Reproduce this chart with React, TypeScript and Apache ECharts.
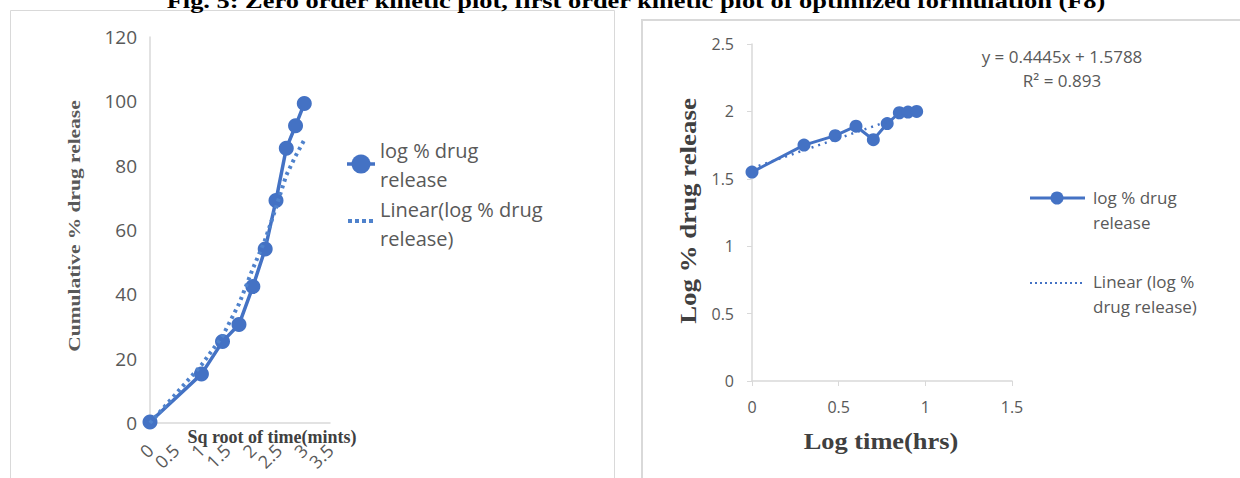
import React, { useEffect, useRef } from "react";
import * as echarts from "echarts";

// Zero order plot (left)
const sqrtTime = [0, 1, 1.41, 1.73, 2, 2.24, 2.45, 2.65, 2.83, 3];
const cumRelease = [0.3, 15.2, 25.3, 30.6, 42.4, 54.1, 69.2, 85.4, 92.4, 99.3];
const zeroTrend = [0, 18, 27, 37, 48, 57, 67, 77, 83, 88];
// First order plot (right)
const logTime = [0, 0.3, 0.48, 0.6, 0.7, 0.78, 0.85, 0.9, 0.95];
const logRelease = [1.55, 1.75, 1.82, 1.89, 1.79, 1.91, 1.99, 1.995, 2.0];
const trendX = [0, 0.95];
const trendY = [1.579, 2.0];

const titleText =
  "Fig. 5: Zero order kinetic plot, first order kinetic plot of optimized formulation (F8)";
const seriesName = "log % drug release";
const linearLeft = "Linear(log % drug release)";
const linearRight = "Linear (log % drug release)";
const equationText = "y = 0.4445x + 1.5788";
const r2Text = "R\u00b2 = 0.893";

const BLUE = "#4472C4";
const GRAY = "#595959";
const DARK = "#404040";
const AXIS = "#d9d9d9";
const SANS = "'Open Sans', 'Noto Sans', sans-serif";
const SERIF = "'Liberation Serif', 'DejaVu Serif', serif";

export default function App() {
  const ref = useRef<HTMLDivElement>(null);

  useEffect(() => {
    if (!ref.current) return;
    const chart = echarts.init(ref.current, undefined, { renderer: "svg" });

    const leftData = sqrtTime.map((x, i) => [x, cumRelease[i]]);
    const leftTrend = sqrtTime.map((x, i) => [x, zeroTrend[i]]);
    const rightData = logTime.map((x, i) => [x, logRelease[i]]);
    const rightTrend = trendX.map((x, i) => [x, trendY[i]]);

    const txt = (
      text: string,
      x: number,
      y: number,
      size: number,
      extra: any = {},
      style: any = {}
    ) => ({
      type: "text",
      x,
      y,
      ...extra,
      style: {
        text,
        fontSize: size,
        fontFamily: SANS,
        fill: GRAY,
        align: "left",
        verticalAlign: "middle",
        ...style,
      },
    });

    chart.setOption({
      animation: false,
      backgroundColor: "#ffffff",
      grid: [
        { left: 150, top: 37, width: 180, height: 386 },
        { left: 752, top: 44, width: 260, height: 337 },
      ],
      xAxis: [
        {
          type: "value",
          gridIndex: 0,
          min: 0,
          max: 3.5,
          interval: 0.5,
          splitLine: { show: false },
          axisLine: { show: true, lineStyle: { color: AXIS, width: 1.5 } },
          axisTick: { show: false },
          axisLabel: {
            rotate: 45,
            margin: 24,
            fontSize: 18,
            fontFamily: SANS,
            color: GRAY,
            showMaxLabel: true,
          },
        },
        {
          type: "value",
          gridIndex: 1,
          min: 0,
          max: 1.5,
          interval: 0.5,
          splitLine: { show: false },
          axisLine: { show: true, lineStyle: { color: AXIS, width: 1.5 } },
          axisTick: { show: true, length: 5, lineStyle: { color: AXIS } },
          axisLabel: { margin: 18, fontSize: 16, fontFamily: SANS, color: GRAY },
        },
      ],
      yAxis: [
        {
          type: "value",
          gridIndex: 0,
          min: 0,
          max: 120,
          interval: 20,
          splitLine: { show: false },
          axisLine: { show: true, lineStyle: { color: AXIS, width: 1.5 } },
          axisTick: { show: false },
          axisLabel: { margin: 13, fontSize: 19, fontFamily: SANS, color: GRAY },
        },
        {
          type: "value",
          gridIndex: 1,
          min: 0,
          max: 2.5,
          interval: 0.5,
          splitLine: { show: false },
          axisLine: { show: true, lineStyle: { color: AXIS, width: 1.5 } },
          axisTick: { show: true, length: 5, lineStyle: { color: AXIS } },
          axisLabel: { margin: 18, fontSize: 16, fontFamily: SANS, color: GRAY },
        },
      ],
      series: [
        {
          name: linearLeft,
          type: "line",
          xAxisIndex: 0,
          yAxisIndex: 0,
          data: leftTrend,
          showSymbol: false,
          lineStyle: { color: "#4f82cc", width: 4, type: [3, 4] },
          z: 3,
        },
        {
          name: seriesName,
          type: "line",
          xAxisIndex: 0,
          yAxisIndex: 0,
          data: leftData,
          symbol: "circle",
          symbolSize: 15,
          itemStyle: { color: BLUE },
          lineStyle: { color: BLUE, width: 3.5 },
          z: 2,
        },
        {
          name: seriesName,
          type: "line",
          xAxisIndex: 1,
          yAxisIndex: 1,
          data: rightData,
          symbol: "circle",
          symbolSize: 13,
          itemStyle: { color: BLUE },
          lineStyle: { color: BLUE, width: 3 },
          z: 2,
        },
        {
          name: linearRight,
          type: "line",
          xAxisIndex: 1,
          yAxisIndex: 1,
          data: rightTrend,
          showSymbol: false,
          lineStyle: { color: BLUE, width: 2.5, type: [2, 5] },
          z: 3,
        },
      ],
      graphic: [
        // frames
        {
          type: "rect",
          shape: { x: 10.5, y: 10.5, width: 604, height: 490 },
          style: { fill: "none", stroke: AXIS, lineWidth: 1 },
        },
        {
          type: "rect",
          shape: { x: 642, y: 20, width: 620, height: 490 },
          style: { fill: "none", stroke: AXIS, lineWidth: 2 },
        },
        // figure caption (cut off at top, as in the source)
        txt(titleText, 636, 0, 22, { scaleX: 1.2 }, {
          fontFamily: SERIF,
          fontWeight: "bold",
          fill: "#000000",
          align: "center",
        }),
        // left axis titles
        txt("Cumulative % drug release", 75, 226, 16, { rotation: Math.PI / 2, scaleX: 1.34 }, {
          fontFamily: SERIF,
          fontWeight: "bold",
          fill: GRAY,
          align: "center",
        }),
        txt("Sq root of time(mints)", 272, 437, 18, {}, {
          fontFamily: SERIF,
          fontWeight: "bold",
          fill: DARK,
          align: "center",
        }),
        // right axis titles
        txt("Log % drug release", 688, 211, 24, { rotation: Math.PI / 2, scaleX: 1.12 }, {
          fontFamily: SERIF,
          fontWeight: "bold",
          fill: DARK,
          align: "center",
        }),
        txt("Log time(hrs)", 881, 441, 24, { scaleX: 1.1 }, {
          fontFamily: SERIF,
          fontWeight: "bold",
          fill: DARK,
          align: "center",
        }),
        // left legend
        {
          type: "line",
          shape: { x1: 347, y1: 164, x2: 375, y2: 164 },
          style: { stroke: BLUE, lineWidth: 3.5 },
        },
        {
          type: "circle",
          shape: { cx: 361, cy: 164, r: 9.5 },
          style: { fill: BLUE },
        },
        txt("log % drug", 380, 150, 20),
        txt("release", 380, 179, 20),
        {
          type: "line",
          shape: { x1: 348, y1: 221, x2: 376, y2: 221 },
          style: { stroke: "#4f82cc", lineWidth: 4, lineDash: [4, 3] },
        },
        txt("Linear(log % drug", 380, 209, 20),
        txt("release)", 380, 238, 20),
        // right legend
        {
          type: "line",
          shape: { x1: 1030, y1: 198, x2: 1085, y2: 198 },
          style: { stroke: BLUE, lineWidth: 3 },
        },
        {
          type: "circle",
          shape: { cx: 1057, cy: 198, r: 6.5 },
          style: { fill: BLUE },
        },
        txt("log % drug", 1093, 197, 17),
        txt("release", 1093, 222, 17),
        {
          type: "line",
          shape: { x1: 1030, y1: 283, x2: 1085, y2: 283 },
          style: { stroke: BLUE, lineWidth: 2, lineDash: [2, 3] },
        },
        txt("Linear (log %", 1093, 281, 17),
        txt("drug release)", 1093, 306, 17),
        // trendline equation
        txt(equationText, 1062, 56, 17, {}, { align: "center" }),
        txt(r2Text, 1062, 80, 17, {}, { align: "center" }),
      ],
    });

    return () => chart.dispose();
  }, []);

  return (
    <div
      ref={ref}
      style={{ position: "fixed", left: 0, top: 0, width: 1240, height: 478 }}
    />
  );
}
